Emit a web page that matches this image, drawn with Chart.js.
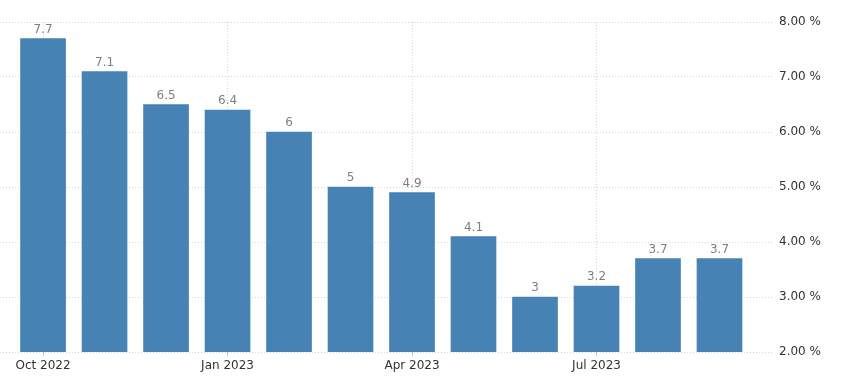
<!DOCTYPE html>
<html>
<head>
<meta charset="utf-8">
<script src="https://cdn.jsdelivr.net/npm/chart.js@4"></script>
<style>
  html, body { margin: 0; padding: 0; background: #fff; }
  #wrap { width: 842px; height: 391px; }
</style>
</head>
<body>
<div id="wrap"><canvas id="inflationChart"></canvas></div>
<script>
const months = ['Oct 2022', 'Nov 2022', 'Dec 2022', 'Jan 2023', 'Feb 2023', 'Mar 2023',
  'Apr 2023', 'May 2023', 'Jun 2023', 'Jul 2023', 'Aug 2023', 'Sep 2023'];
const rates = [7.7, 7.1, 6.5, 6.4, 6, 5, 4.9, 4.1, 3, 3.2, 3.7, 3.7];
const yTicks = [2, 3, 4, 5, 6, 7, 8];

// value labels above each bar
const valueLabels = {
  id: 'valueLabels',
  afterDatasetsDraw(chart) {
    const c = chart.ctx;
    const meta = chart.getDatasetMeta(0);
    c.save();
    c.font = '12px "DejaVu Sans"';
    c.fillStyle = '#7f7f7f';
    c.textAlign = 'center';
    c.textBaseline = 'alphabetic';
    meta.data.forEach((bar, i) => {
      c.fillText(String(rates[i]), bar.x, bar.y - 6);
    });
    c.restore();
  }
};

const ctx = document.getElementById('inflationChart').getContext('2d');

new Chart(ctx, {
  type: 'bar',
  data: {
    datasets: [{
      data: rates.map((v, i) => ({ x: i, y: v })),
      backgroundColor: '#4682b4',
      borderWidth: 0,
      barThickness: 45
    }]
  },
  options: {
    responsive: true,
    maintainAspectRatio: false,
    animation: false,
    layout: { padding: { top: 22, left: 0, right: 0, bottom: 0 } },
    plugins: {
      legend: { display: false },
      tooltip: { enabled: false }
    },
    scales: {
      x: {
        type: 'linear',
        min: -0.7,
        max: 11.87,
        offset: false,
        grid: {
          offset: false,
          color: '#d6d6d6',
          tickColor: '#c8c8c8',
          tickLength: 4
        },
        border: { display: false, dash: [1, 2] },
        ticks: {
          stepSize: 3,
          includeBounds: false,
          autoSkip: false,
          maxRotation: 0,
          padding: 3,
          color: '#333',
          font: { family: 'DejaVu Sans', size: 12 },
          callback: (v) => months[v] || ''
        },
        afterFit(scale) { scale.height = 39; }
      },
      y: {
        position: 'right',
        min: 2,
        max: 8,
        grid: {
          color: '#d6d6d6',
          drawTicks: false
        },
        border: { display: false, dash: [1, 2] },
        afterBuildTicks(scale) { scale.ticks = yTicks.map(v => ({ value: v })); },
        ticks: {
          padding: 6,
          color: '#333',
          font: { family: 'DejaVu Sans', size: 12 },
          callback: (v) => v.toFixed(2) + ' %'
        },
        afterFit(scale) { scale.width = 69; }
      }
    }
  },
  plugins: [valueLabels]
});
</script>
</body>
</html>
